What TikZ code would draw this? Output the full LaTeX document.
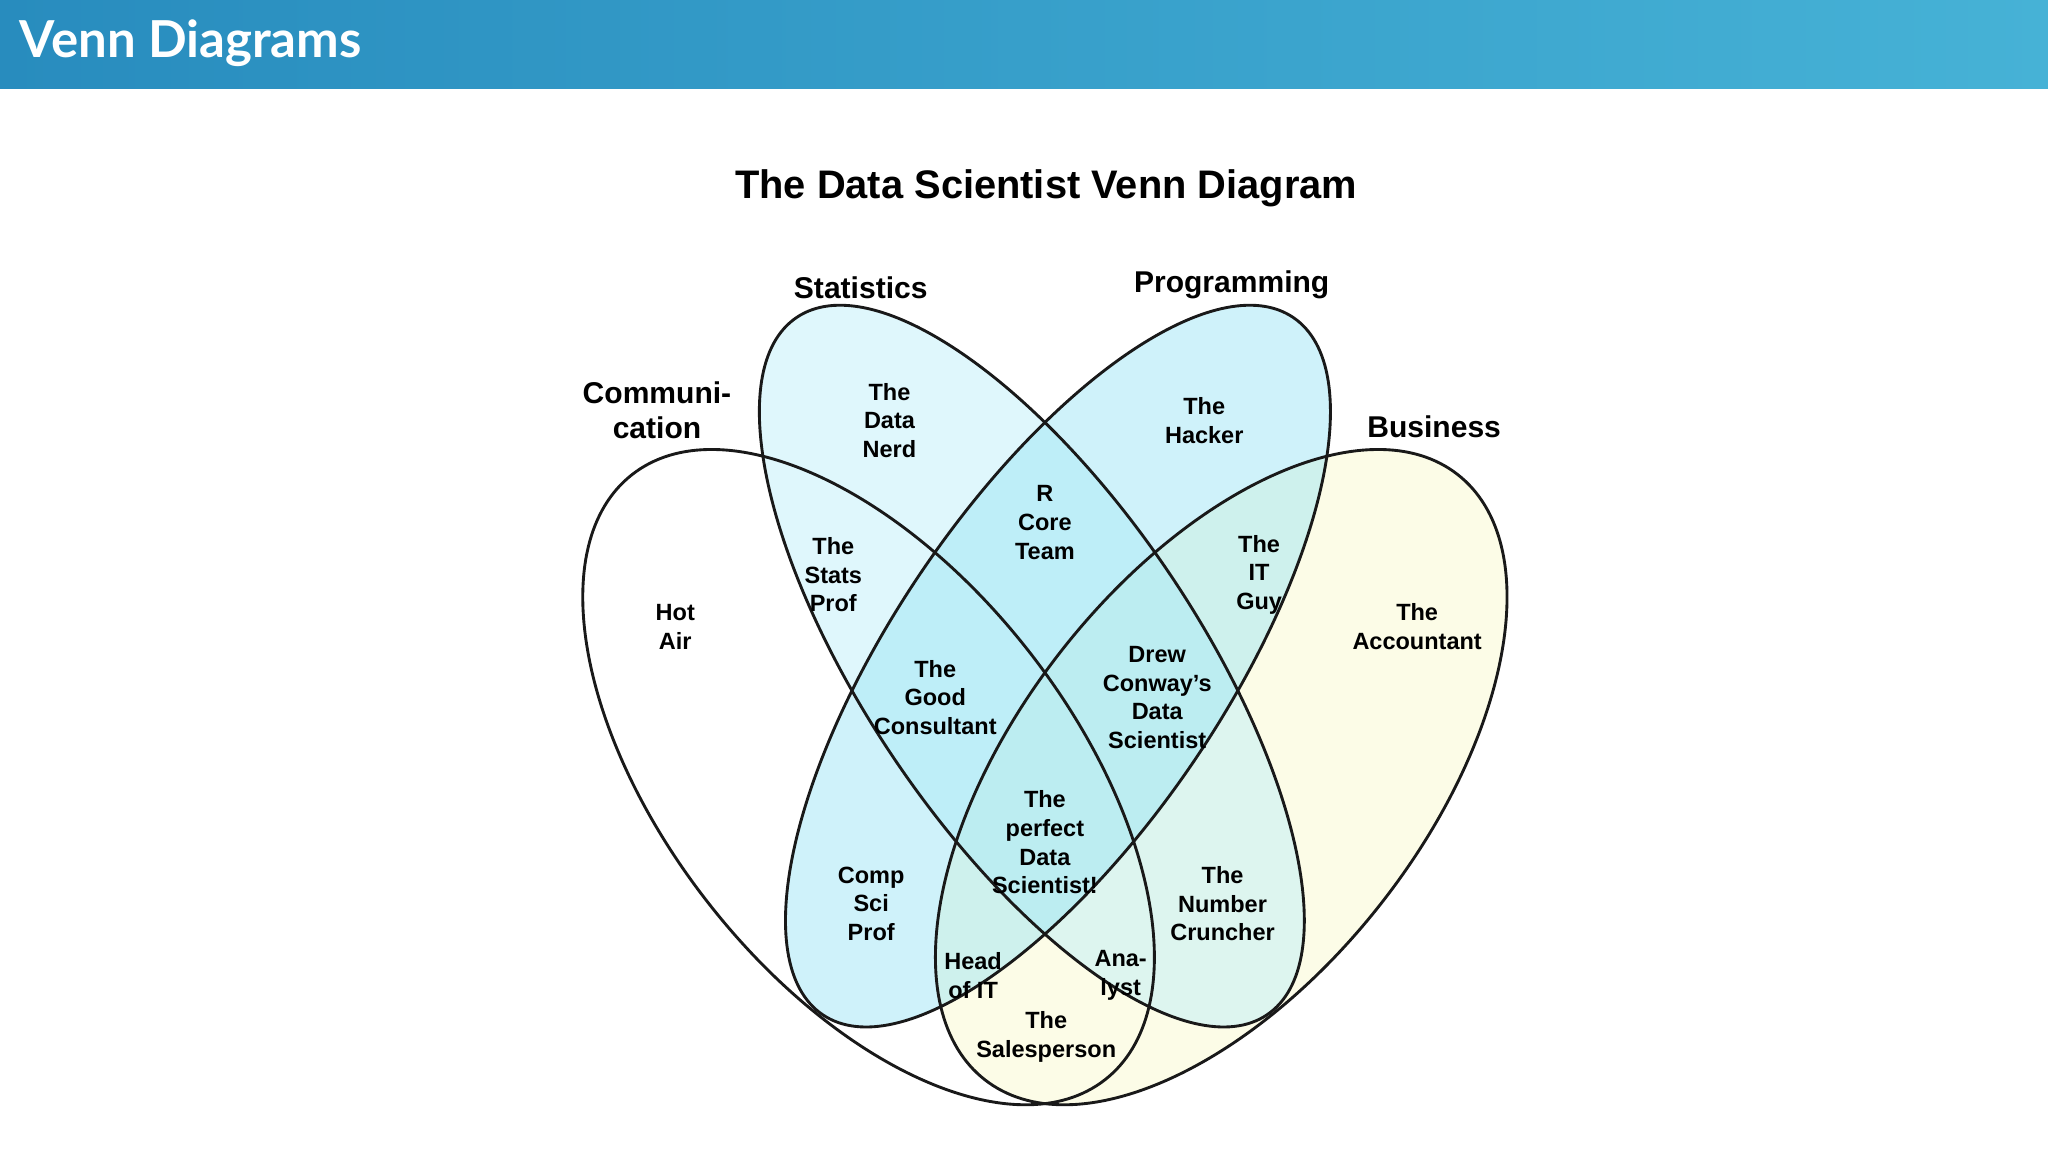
\documentclass[tikz,border=0pt]{standalone}
\usepackage{fontspec}
\setmainfont{Liberation Sans}
\newfontfamily\lato{Lato}
\definecolor{hdl}{RGB}{40,140,190}
\definecolor{hdr}{RGB}{70,178,214}
\definecolor{cstat}{RGB}{185,238,250}
\definecolor{cprog}{RGB}{150,228,245}
\definecolor{cbus}{RGB}{250,250,215}
\begin{document}
\begin{tikzpicture}[x=1pt,y=1pt,
  lbl/.style={align=center,font=\bfseries\fontsize{18}{22}\selectfont,inner sep=0pt},
  cat/.style={align=center,font=\bfseries\fontsize{23}{27}\selectfont,inner sep=0pt},
  ring/.style={line width=2.2pt,black!90}]
\useasboundingbox (0,0) rectangle (1568,882);
\fill[white] (0,0) rectangle (1568,882);
\shade[left color=hdl, right color=hdr] (0,814) rectangle (1568,882);
\node[anchor=west,text=white,font=\lato\bfseries\fontsize{39}{42}\selectfont,inner sep=0pt] (hdrt) at (15,849) {Venn Diagrams};
\node[font=\bfseries\fontsize{30.5}{34}\selectfont] (title) at (801,738) {The Data Scientist Venn Diagram};
% fills
\fill[cbus,fill opacity=0.6,rotate around={52:(935,287)}] (935,287) ellipse [x radius=294,y radius=156];
\fill[cstat,fill opacity=0.45,rotate around={-56:(790,372)}] (790,372) ellipse [x radius=322,y radius=127];
\fill[cprog,fill opacity=0.45,rotate around={56:(810,372)}] (810,372) ellipse [x radius=322,y radius=127];
% outlines
\draw[ring,rotate around={-52:(665,287)}] (665,287) ellipse [x radius=294,y radius=156];
\draw[ring,rotate around={52:(935,287)}] (935,287) ellipse [x radius=294,y radius=156];
\draw[ring,rotate around={-56:(790,372)}] (790,372) ellipse [x radius=322,y radius=127];
\draw[ring,rotate around={56:(810,372)}] (810,372) ellipse [x radius=322,y radius=127];
% category labels
\node[cat] (stat) at (659,662) {Statistics};
\node[cat] (prog) at (943,664) {Programming};
\node[cat] (comm) at (503,568) {Communi-\\cation};
\node[cat] (bus) at (1098,555) {Business};
% region labels
\node[lbl] (nerd) at (681,560) {The\\Data\\Nerd};
\node[lbl] (hack) at (922,560) {The\\Hacker};
\node[lbl] (rcore) at (800,482) {R\\Core\\Team};
\node[lbl] (sprof) at (638,442) {The\\Stats\\Prof};
\node[lbl] (itguy) at (964,442) {The\\IT\\Guy};
\node[lbl] (hot) at (517,402) {Hot\\Air};
\node[lbl] (acct) at (1085,402) {The\\Accountant};
\node[lbl] (good) at (716,348) {The\\Good\\Consultant};
\node[lbl] (drew) at (886,348) {Drew\\Conway's\\Data\\Scientist};
\node[lbl] (perf) at (800,237) {The\\perfect\\Data\\Scientist!};
\node[lbl] (csp) at (667,190) {Comp\\Sci\\Prof};
\node[lbl] (numc) at (936,190) {The\\Number\\Cruncher};
\node[lbl] (head) at (745,135) {Head\\of IT};
\node[lbl] (ana) at (858,135) {Ana-\\lyst};
\node[lbl] (sales) at (801,88) {The\\Salesperson};
\end{tikzpicture}
\end{document}
